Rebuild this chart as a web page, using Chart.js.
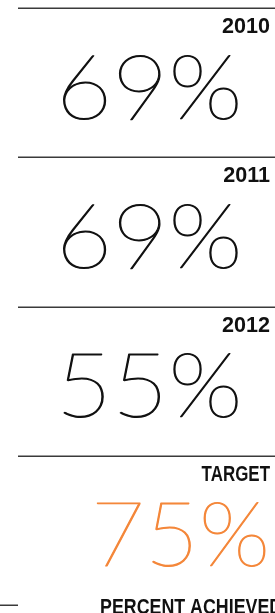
<!DOCTYPE html>
<html>
<head>
<meta charset="utf-8">
<script src="https://cdn.jsdelivr.net/npm/chart.js@4"></script>
<style>
html,body{margin:0;padding:0;background:#fff;overflow:hidden;}
canvas{display:block;}
</style>
</head>
<body>
<canvas id="c" width="275" height="613"></canvas>
<script>
const categories = ['2010', '2011', '2012', 'TARGET'];
const values = [69, 69, 55, 75];
const axisTitle = 'PERCENT ACHIEVED';

const INK = '#111111';
const ACCENT = '#f4873a';
const RULE = '#3a3a3a';
const LABEL_FONT = 'bold 22px "Liberation Sans", Arial, sans-serif';
const WORD_SQUEEZE = 0.77;
const TITLE_SQUEEZE = 0.81;
const DIGIT_SQUEEZE = 0.98;
const BIG_FONT = '100 90px Lato, "Open Sans", sans-serif';
const BIG_STRETCH = 1.08;
const BIG_WEIGHT = 1.1;

function squeezedText(ctx, txt, x, y, align, sx, strokeW) {
  ctx.save();
  ctx.translate(x, y);
  ctx.scale(sx, 1);
  ctx.textAlign = align;
  ctx.fillText(txt, 0, 0);
  if (strokeW) {
    ctx.lineWidth = strokeW;
    ctx.lineJoin = 'round';
    ctx.strokeStyle = ctx.fillStyle;
    ctx.strokeText(txt, 0, 0);
  }
  ctx.restore();
}

const tilePlugin = {
  id: 'tiles',
  afterDatasetsDraw(chart) {
    const ctx = chart.ctx;
    const area = chart.chartArea;
    const yScale = chart.scales.y;
    const meta = chart.getDatasetMeta(0);
    const n = categories.length;
    const rowH = (area.bottom - area.top) / n;
    ctx.save();
    ctx.strokeStyle = RULE;
    ctx.lineWidth = 1.5;
    for (let i = 0; i < n; i++) {
      const y = Math.round(yScale.getPixelForValue(i) - rowH / 2) + 0.25;
      ctx.beginPath();
      ctx.moveTo(area.left, y);
      ctx.lineTo(area.right, y);
      ctx.stroke();
    }
    const yb = Math.round(yScale.getPixelForValue(n - 1) + rowH / 2) + 0.25;
    ctx.beginPath();
    ctx.moveTo(0, yb);
    ctx.lineTo(area.left, yb);
    ctx.stroke();

    ctx.textBaseline = 'alphabetic';
    meta.data.forEach((bar, i) => {
      const cy = bar.y;
      const top = cy - rowH / 2;
      const label = categories[i];
      const isTarget = label === 'TARGET';
      ctx.font = LABEL_FONT;
      ctx.fillStyle = INK;
      const sq = /^\d+$/.test(label) ? DIGIT_SQUEEZE : WORD_SQUEEZE;
      squeezedText(ctx, label, area.right - 5, top + 25, 'right', sq);
      ctx.font = BIG_FONT;
      ctx.fillStyle = isTarget ? ACCENT : INK;
      const txt = values[i] + '%';
      if (isTarget) {
        squeezedText(ctx, txt, area.right - 5, cy + 36, 'right', BIG_STRETCH * 0.96, BIG_WEIGHT);
      } else {
        squeezedText(ctx, txt, (area.left + area.right) / 2 + 2.5, cy + 36, 'center', BIG_STRETCH, BIG_WEIGHT);
      }
    });

    ctx.font = LABEL_FONT;
    ctx.fillStyle = INK;
    squeezedText(ctx, axisTitle, 100, 614, 'left', TITLE_SQUEEZE);
    ctx.restore();
  }
};

new Chart(document.getElementById('c'), {
  type: 'bar',
  data: {
    labels: categories,
    datasets: [{
      data: values,
      backgroundColor: 'rgba(0,0,0,0)',
      borderWidth: 0
    }]
  },
  options: {
    indexAxis: 'y',
    responsive: false,
    animation: false,
    devicePixelRatio: 1,
    layout: { padding: { left: 18, top: 8, right: 0, bottom: 8 } },
    plugins: { legend: { display: false }, tooltip: { enabled: false } },
    scales: {
      x: { display: false, min: 0, max: 100 },
      y: { display: false }
    }
  },
  plugins: [tilePlugin]
});
</script>
</body>
</html>
